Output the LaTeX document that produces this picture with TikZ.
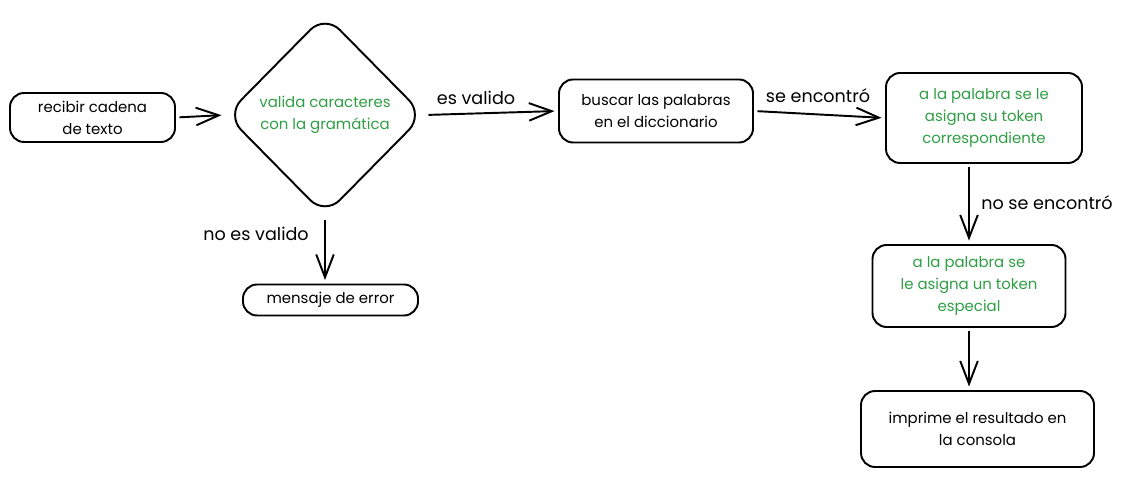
\documentclass[tikz,border=0pt]{standalone}
\usepackage{fontspec}
\setmainfont{Poppins}
\usetikzlibrary{shapes.geometric,arrows.meta}
\definecolor{exgreen}{RGB}{47,158,68}
\begin{document}
\begin{tikzpicture}[box/.style={draw, line width=1.1pt, rounded corners=8pt, align=center, inner sep=0pt, font=\fontsize{8.5}{12.5}\selectfont},
  decision/.style={diamond, draw, line width=1.1pt, rounded corners=12pt, align=center, inner sep=0pt, font=\fontsize{8.5}{12.5}\selectfont},
  flow/.style={line width=1.1pt, -{Straight Barb[length=13pt,width=10pt,line width=1.1pt]}, shorten <=2pt, shorten >=2pt},
  lbl/.style={font=\fontsize{10}{12}\selectfont}]
\useasboundingbox (0,0) rectangle (22.7,-9.54);
\node [box, minimum width=3.3cm, minimum height=0.98cm] (recibir) at (1.85,-2.35) {recibir cadena\\de texto};
\node [decision, minimum width=3.96cm, minimum height=4.02cm, text=exgreen] (valida) at (6.5,-2.3) {valida caracteres\\con la gramática};
\node [box, minimum width=3.5cm, minimum height=0.62cm] (error) at (6.61,-6.0) {mensaje de error};
\node [box, minimum width=3.88cm, minimum height=1.26cm] (buscar) at (13.12,-2.22) {buscar las palabras\\en el diccionario};
\node [box, minimum width=3.92cm, minimum height=1.8cm, text=exgreen] (token) at (19.68,-2.36) {a la palabra se le\\asigna su token\\correspondiente};
\node [box, minimum width=3.86cm, minimum height=1.64cm, text=exgreen] (especial) at (19.38,-5.72) {a la palabra se\\le asigna un token\\especial};
\node [box, minimum width=4.66cm, minimum height=1.52cm] (imprime) at (19.55,-8.58) {imprime el resultado en\\la consola};
\node [lbl] (esvalido) at (9.52,-1.96) {es valido};
\node [lbl] (encontro) at (16.36,-1.92) {se encontró};
\node [lbl] (noesvalido) at (5.12,-4.68) {no es valido};
\node [lbl] (noencontro) at (20.94,-4.06) {no se encontró};
\draw [flow] (recibir.east) -- (valida.west);
\draw [flow] (valida.east) -- (buscar.west);
\draw [flow] (buscar.east) -- (token.west);
\draw [flow] (valida.south) -- (valida.south |- error.north);
\draw [flow] (token.south -| especial.north) -- (especial.north);
\draw [flow] (especial.south) -- (especial.south |- imprime.north);
\end{tikzpicture}
\end{document}
